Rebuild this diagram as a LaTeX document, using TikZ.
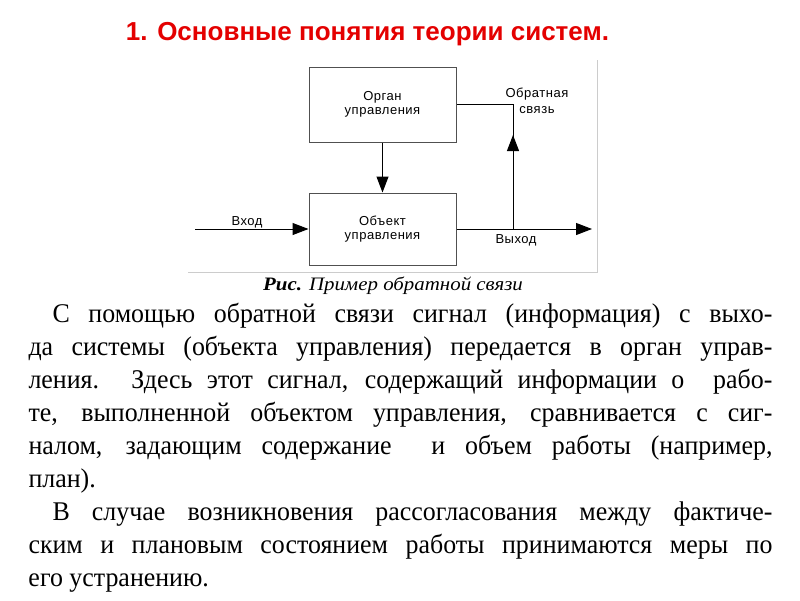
\documentclass[tikz,border=0pt]{standalone}
\usepackage{fontspec}
\usepackage{tikz}
\usetikzlibrary{arrows.meta}
\setmainfont{Liberation Serif}
\newfontfamily\titlefont{Liberation Sans}
\newfontfamily\diagfont[LetterSpace=4]{Liberation Sans}
\newfontfamily\bodyfont[FakeStretch=0.96]{Liberation Serif}
\newfontfamily\capfont[FakeStretch=1.1]{Liberation Serif}
\definecolor{titlered}{RGB}{228,0,0}
\definecolor{boxgray}{RGB}{80,80,80}

\begin{document}
\begin{tikzpicture}[x=1pt, y=-1pt, >={Triangle[length=16pt,width=12pt]},
      every node/.append style={inner sep=0pt},
      line width=1pt]
    \tikzstyle{blok} = [draw=boxgray, minimum width=147pt, align=center,
      font=\diagfont\fontsize{13}{14}\selectfont]
    \tikzstyle{lbl} = [font=\diagfont\fontsize{13}{16}\selectfont, align=center]
    \useasboundingbox [fill=white] (0,0) rectangle (800,600);
    % title
    \node [anchor=base, text=titlered, font=\titlefont\bfseries\fontsize{26}{30}\selectfont]
      (title) at (367.5,40) {1. Основные понятия теории систем.};
    % frame of the figure
    \draw [black!20] (188,272) -- (597,272) -- (597,60);
    % blocks
    \node [blok, minimum height=75pt] (organ) at (382.5,104.5) {Орган\\управления};
    \node [blok, minimum height=72pt] (object) at (382.5,229) {Объект\\управления};
    \coordinate (in) at (195,229);
    \coordinate (out) at (592,229);
    \coordinate (fbtop) at (513,104.5);
    \coordinate (fbbot) at (513,229);
    \coordinate (fbtip) at (513,135);
    \draw [->] (organ) -- (object);
    \draw [->] (in) -- (object.west);
    \draw [->] (object.east) -- (out);
    \draw (organ.east) -- (fbtop) -- (fbbot);
    \draw [->] (fbbot) -- (fbtip);
    \node [lbl, anchor=base] (vhod) at (247,225) {Вход};
    \node [lbl, anchor=base] (vyhod) at (516,243) {Выход};
    \node [lbl] (obr) at (537,101) {Обратная\\связь};
    % caption
    \node [anchor=base, font=\capfont\fontsize{19}{20}\selectfont] (cap) at (393,290)
      {\textbf{\textit{Рис.}} \textit{Пример обратной связи}};
    % body text
    \node [anchor=north west, text width=744pt, align=justify,
      font=\bodyfont\fontsize{27}{33}\selectfont] (body) at (28,303)
      {\hspace*{24pt}С помощью обратной связи сигнал (информация) с выхо-\linebreak
       да системы (объекта управления) передается в орган управ-\linebreak
       ления. Здесь этот сигнал, содержащий информации о~ рабо-\linebreak
       те, выполненной объектом управления, сравнивается с сиг-\linebreak
       налом, задающим содержание~ и объем работы (например,\linebreak
       план).\par
       \hspace*{24pt}В случае возникновения рассогласования между фактиче-\linebreak
       ским и плановым состоянием работы принимаются меры по\linebreak
       его устранению.\par};
\end{tikzpicture}
\end{document}
